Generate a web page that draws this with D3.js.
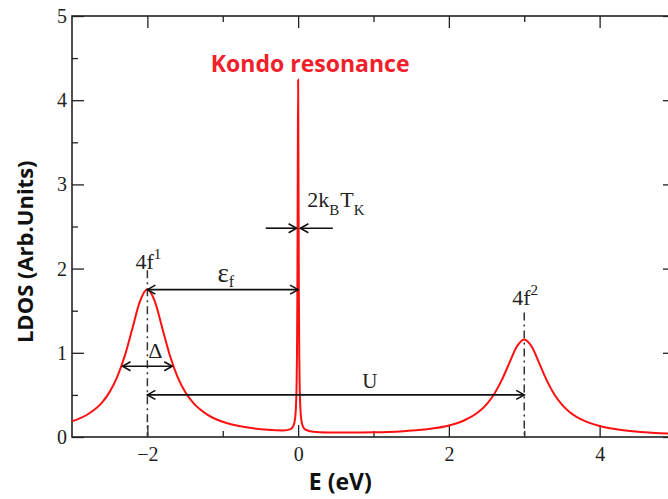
<!DOCTYPE html>
<html>
<head>
<meta charset="utf-8">
<script src="https://cdn.jsdelivr.net/npm/d3@7"></script>
<style>
  body { margin: 0; background: #fff; }
  svg { display: block; }
  .tick text { font-family: "Liberation Serif", "DejaVu Serif", serif; font-size: 20px; fill: #222; }
  .ann { font-family: "Liberation Serif", "DejaVu Serif", serif; fill: #222; }
</style>
</head>
<body>
<div id="chart"></div>
<script>
// LDOS curve (E in eV, LDOS in arb. units)
var energy = [-3, -2.8, -2.6, -2.5, -2.4, -2.3, -2.2, -2.1, -2.0, -1.9, -1.8, -1.7, -1.6, -1.5, -1.4,
  -1.2, -1.0, -0.8, -0.6, -0.4, -0.2, -0.1, -0.06, -0.04, -0.03, -0.02, -0.015, -0.01, -0.005,
  0, 0.005, 0.01, 0.015, 0.02, 0.03, 0.04, 0.06, 0.1, 0.2, 0.4, 0.6, 0.8, 1.0, 1.2, 1.4, 1.6, 1.8,
  2.0, 2.2, 2.4, 2.5, 2.6, 2.7, 2.8, 2.9, 3.0, 3.1, 3.2, 3.3, 3.4, 3.5, 3.6, 3.8, 4.0, 4.2, 4.4,
  4.6, 4.8, 5.0];
var ldos = [0.186, 0.264, 0.411, 0.536, 0.714, 0.963, 1.285, 1.608, 1.756, 1.609, 1.286, 0.965, 0.715, 0.538, 0.414,
  0.263, 0.181, 0.133, 0.103, 0.085, 0.078, 0.093, 0.137, 0.223, 0.343, 0.643, 0.993, 1.693, 3.073,
  4.242, 3.071, 1.691, 0.990, 0.640, 0.340, 0.220, 0.133, 0.086, 0.063, 0.054, 0.052, 0.053, 0.055, 0.060, 0.069, 0.082, 0.103,
  0.137, 0.196, 0.302, 0.388, 0.508, 0.672, 0.875, 1.071, 1.158, 1.071, 0.874, 0.670, 0.505, 0.385, 0.298, 0.191, 0.131, 0.095, 0.072,
  0.057, 0.046, 0.038];

var xMajor = [-2, 0, 2, 4];
var xMinor = [-1, 1, 3];
var yMajor = [0, 1, 2, 3, 4, 5];
var yMinor = [0.5, 1.5, 2.5, 3.5, 4.5];

// peak markers: dash-dot guide from top value down to zero
var peakE = [-2, 3];
var peakSup = ["1", "2"];
var peakLabelY = [2.0, 1.57];
var peakGuideTop = [1.98, 1.48];

// double / single arrows, in data units
var arrows = [
  {x1: -2, x2: 0, y: 1.75, start: true, end: true},      // eps_f
  {x1: -2.33, x2: -1.67, y: 0.84, start: true, end: true}, // Delta
  {x1: -2, x2: 3, y: 0.5, start: true, end: true},       // U
  {x1: -0.43, x2: -0.02, y: 2.48, start: false, end: true}, // 2kBTK left
  {x1: 0.46, x2: 0.03, y: 2.48, start: false, end: true}    // 2kBTK right
];

var width = 668, height = 499;
var margin = {top: 16, left: 72, bottom: 62};
var plotW = 603, plotH = height - margin.top - margin.bottom;

var svg = d3.select("#chart").append("svg")
  .attr("width", width).attr("height", height);

var x = d3.scaleLinear().domain([-3, 5]).range([margin.left, margin.left + plotW]);
var y = d3.scaleLinear().domain([0, 5]).range([margin.top + plotH, margin.top]);

var defs = svg.append("defs");
defs.append("clipPath").attr("id", "plotclip")
  .append("rect").attr("x", x(-3)).attr("y", y(5)).attr("width", plotW).attr("height", plotH);
defs.append("marker")
  .attr("id", "head")
  .attr("markerUnits", "userSpaceOnUse")
  .attr("viewBox", "-10 -6 12 12")
  .attr("refX", 0).attr("refY", 0)
  .attr("markerWidth", 12).attr("markerHeight", 12)
  .attr("orient", "auto-start-reverse")
  .append("path")
  .attr("d", "M-8,-4.5L0,0L-8,4.5")
  .attr("fill", "none").attr("stroke", "#111").attr("stroke-width", 1.6);

// axes (ticks pointing inwards, mirrored on top/right)
function styleAxis(g) {
  g.select(".domain").remove();
  g.selectAll(".tick line").attr("stroke", "#222").attr("stroke-width", 1.3);
}
var fmt = d3.format("");
svg.append("g").attr("transform", "translate(0," + y(0) + ")")
  .call(d3.axisBottom(x).tickValues(xMajor).tickSize(-12).tickSizeOuter(0).tickPadding(10).tickFormat(fmt))
  .call(styleAxis);
svg.append("g").attr("transform", "translate(0," + y(0) + ")")
  .call(d3.axisBottom(x).tickValues(xMinor).tickSize(-6).tickFormat(""))
  .call(styleAxis);
svg.append("g").attr("transform", "translate(0," + y(5) + ")")
  .call(d3.axisTop(x).tickValues(xMajor).tickSize(-12).tickFormat(""))
  .call(styleAxis);
svg.append("g").attr("transform", "translate(0," + y(5) + ")")
  .call(d3.axisTop(x).tickValues(xMinor).tickSize(-6).tickFormat(""))
  .call(styleAxis);
svg.append("g").attr("transform", "translate(" + x(-3) + ",0)")
  .call(d3.axisLeft(y).tickValues(yMajor).tickSize(-12).tickPadding(5).tickFormat(d3.format("d")))
  .call(styleAxis);
svg.append("g").attr("transform", "translate(" + x(-3) + ",0)")
  .call(d3.axisLeft(y).tickValues(yMinor).tickSize(-6).tickFormat(""))
  .call(styleAxis);
svg.append("g").attr("transform", "translate(" + x(5) + ",0)")
  .call(d3.axisRight(y).tickValues(yMajor).tickSize(-12).tickFormat(""))
  .call(styleAxis);
svg.append("g").attr("transform", "translate(" + x(5) + ",0)")
  .call(d3.axisRight(y).tickValues(yMinor).tickSize(-6).tickFormat(""))
  .call(styleAxis);

svg.append("rect")
  .attr("x", x(-3)).attr("y", y(5)).attr("width", plotW).attr("height", plotH)
  .attr("fill", "none").attr("stroke", "#222").attr("stroke-width", 1.6);

// dash-dot guides at the Hubbard peaks
svg.selectAll(".guide").data(peakE).enter().append("line")
  .attr("class", "guide")
  .attr("x1", function(d){ return x(d); }).attr("x2", function(d){ return x(d); })
  .attr("y1", function(d, i){ return y(peakGuideTop[i]); }).attr("y2", y(0))
  .attr("stroke", "#333").attr("stroke-width", 1.5)
  .attr("stroke-dasharray", "8,4,2,4");

// the LDOS curve
var pts = energy.map(function(e, i){ return [e, ldos[i]]; });
var line = d3.line().x(function(d){ return x(d[0]); }).y(function(d){ return y(d[1]); })
  .curve(d3.curveMonotoneX);
svg.append("path")
  .datum(pts)
  .attr("clip-path", "url(#plotclip)")
  .attr("d", line)
  .attr("fill", "none").attr("stroke", "#ff1010").attr("stroke-width", 2);

// arrows
svg.selectAll(".arrow").data(arrows).enter().append("line")
  .attr("class", "arrow")
  .attr("x1", function(d){ return x(d.x1); }).attr("x2", function(d){ return x(d.x2); })
  .attr("y1", function(d){ return y(d.y); }).attr("y2", function(d){ return y(d.y); })
  .attr("stroke", "#111").attr("stroke-width", 1.6)
  .attr("marker-start", function(d){ return d.start ? "url(#head)" : null; })
  .attr("marker-end", function(d){ return d.end ? "url(#head)" : null; });

// peak labels 4f^1, 4f^2
peakE.forEach(function(e, i){
  var t = svg.append("text").attr("class", "ann")
    .attr("x", x(e) - 12).attr("y", y(peakLabelY[i]))
    .style("font-size", "22px");
  t.append("tspan").text("4f");
  t.append("tspan").attr("dy", -10).style("font-size", "15px").text(peakSup[i]);
});

// epsilon_f
var ef = svg.append("text").attr("class", "ann")
  .attr("x", x(-1.07)).attr("y", y(1.84)).style("font-size", "27px");
ef.append("tspan").text("\u03b5");
ef.append("tspan").attr("dy", 5).style("font-size", "16px").text("f");

// Delta
svg.append("text").attr("class", "ann")
  .attr("x", x(-1.99)).attr("y", y(0.94)).style("font-size", "22px").text("\u0394");

// U
svg.append("text").attr("class", "ann")
  .attr("x", x(0.95)).attr("y", y(0.58)).attr("text-anchor", "middle")
  .style("font-size", "21px").text("U");

// 2 k_B T_K
var kt = svg.append("text").attr("class", "ann")
  .attr("x", x(0.12)).attr("y", y(2.73)).style("font-size", "22px");
kt.append("tspan").text("2k");
kt.append("tspan").attr("dy", 8).style("font-size", "15px").text("B");
kt.append("tspan").attr("dy", -8).attr("dx", 1).text("T");
kt.append("tspan").attr("dy", 8).style("font-size", "15px").text("K");

// Kondo resonance title
svg.append("text")
  .attr("x", x(0.16)).attr("y", y(4.33)).attr("text-anchor", "middle")
  .style("font-family", "'Open Sans', sans-serif").style("font-weight", "bold")
  .style("font-size", "23px").attr("fill", "#f2202a")
  .text("Kondo resonance");

// axis titles
svg.append("text")
  .attr("x", x(0.56)).attr("y", 490).attr("text-anchor", "middle")
  .style("font-family", "'Open Sans', sans-serif").style("font-weight", "bold")
  .style("font-size", "23px").attr("fill", "#111")
  .text("E (eV)");
svg.append("text")
  .attr("transform", "translate(33," + y(2.2) + ") rotate(-90)")
  .attr("text-anchor", "middle")
  .style("font-family", "'Open Sans', sans-serif").style("font-weight", "bold")
  .style("font-size", "22px").attr("fill", "#111")
  .text("LDOS (Arb.Units)");
</script>
</body>
</html>
